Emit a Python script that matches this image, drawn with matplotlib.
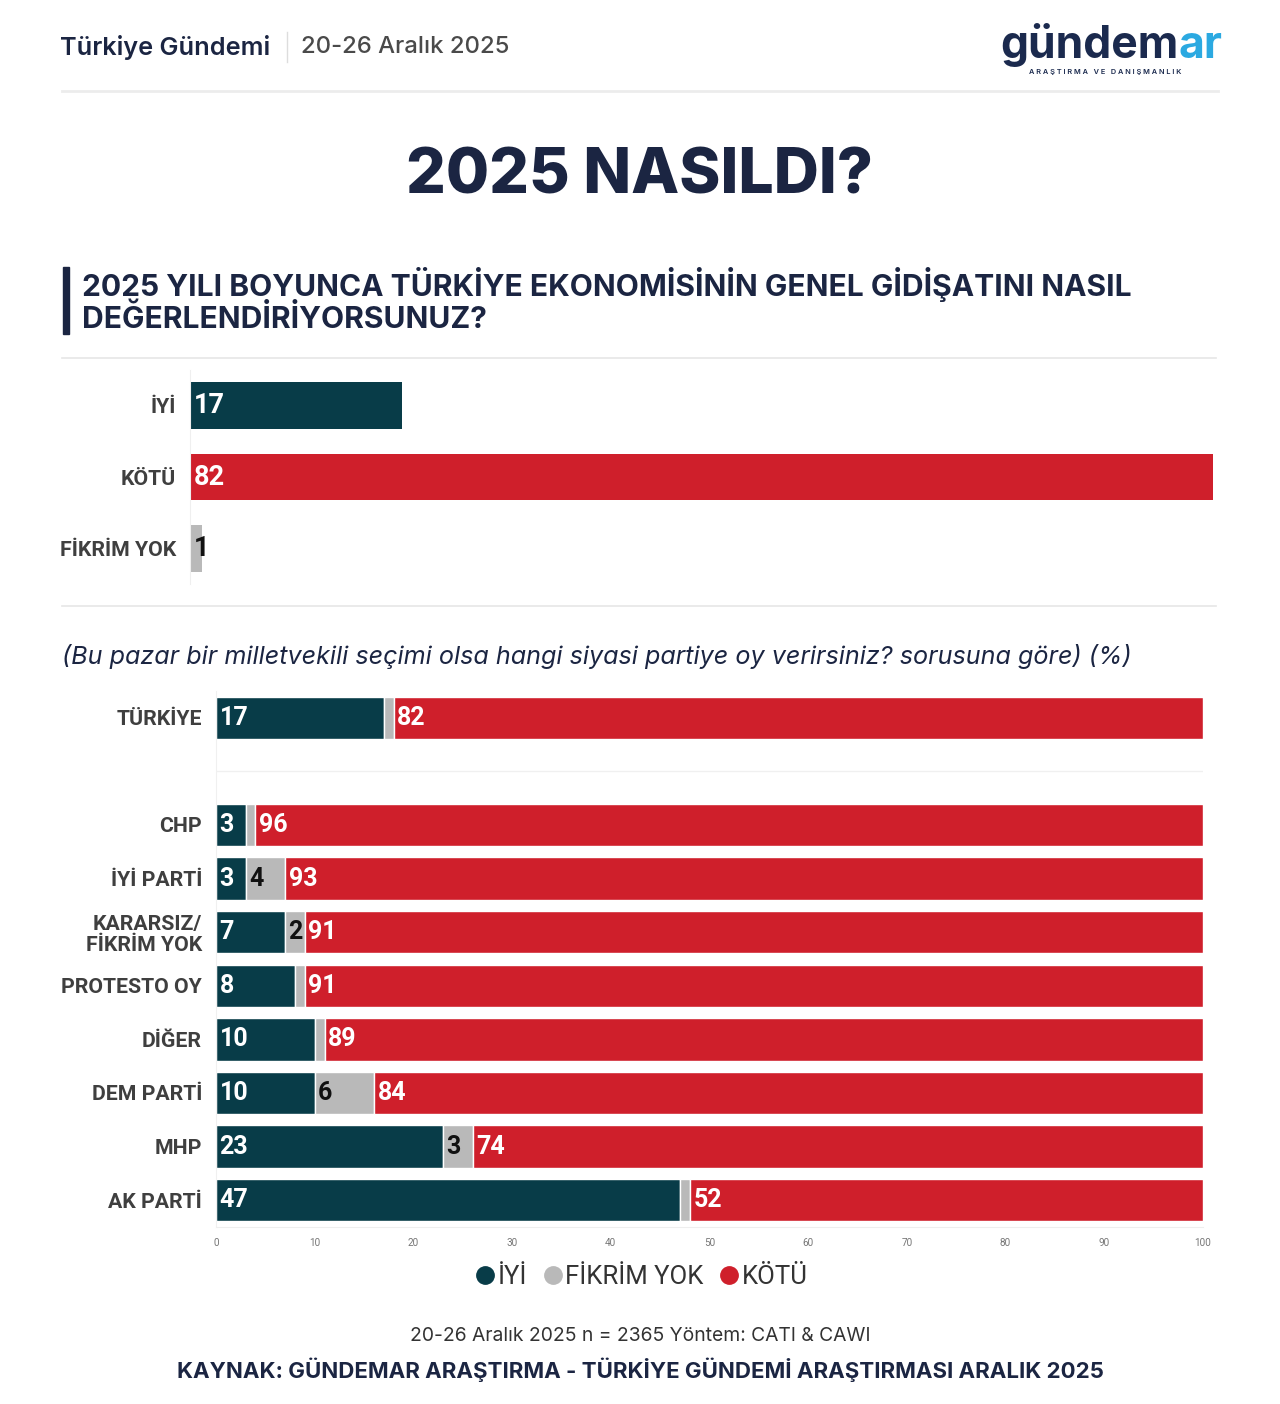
import matplotlib
matplotlib.use("Agg")
import matplotlib.pyplot as plt
from matplotlib.lines import Line2D

# ---------------- data ----------------
top_categories = ["İYİ", "KÖTÜ", "FİKRİM YOK"]
top_values = [17, 82, 1]

party_categories = ["TÜRKİYE", "", "CHP", "İYİ PARTİ", "KARARSIZ/\nFİKRİM YOK", "PROTESTO OY",
                    "DİĞER", "DEM PARTİ", "MHP", "AK PARTİ"]
iyi_values = [17, None, 3, 3, 7, 8, 10, 10, 23, 47]
fikrim_values = [1, None, 1, 4, 2, 1, 1, 6, 3, 1]
kotu_values = [82, None, 96, 93, 91, 91, 89, 84, 74, 52]
series_names = ["İYİ", "FİKRİM YOK", "KÖTÜ"]
x_ticks = [0, 10, 20, 30, 40, 50, 60, 70, 80, 90, 100]

# ---------------- style ----------------
TEAL = "#083C48"
RED = "#CF1F2B"
GRAY = "#B9B9B9"
NAVY = "#1B2542"
LABEL = "#3F3F3F"
W, H = 1280, 1404

fig = plt.figure(figsize=(W / 100, H / 100), dpi=100)
fig.patch.set_facecolor("white")


def fx(x):
    return x / W


def fy(y):
    return 1 - y / H


def ax_rect(x0, y0, x1, y1):
    return [fx(x0), fy(y1), fx(x1) - fx(x0), fy(y0) - fy(y1)]


def line(x0, x1, y, color="#E6E6E6", lw=1.2):
    fig.add_artist(Line2D([fx(x0), fx(x1)], [fy(y), fy(y)], color=color, lw=lw,
                          transform=fig.transFigure))


# ---------------- header ----------------
fig.text(fx(60), fy(47), "Türkiye Gündemi", fontsize=18.2, fontweight="semibold",
         family="Inter", color=NAVY, va="center", ha="left")
fig.add_artist(Line2D([fx(287), fx(287)], [fy(32), fy(62)], color="#DDDDDD", lw=1,
                      transform=fig.transFigure))
fig.text(fx(301), fy(47), "20-26 Aralık 2025", fontsize=17.2, fontweight="medium",
         family="Inter", color="#4A4A4A", va="center", ha="left")

# logo
t1 = fig.text(fx(1000), fy(58), "gündem", fontsize=32, fontweight="bold", family="Inter",
              color="#1B2A4E", va="baseline", ha="left")
fig.canvas.draw()
bb = t1.get_window_extent()
fig.text(bb.x1 / W, fy(58), "ar", fontsize=32, fontweight="bold", family="Inter",
         color="#2BA9E1", va="baseline", ha="left")
fig.text(fx(1029), fy(72), "A R A Ş T I R M A   V E   D A N I Ş M A N L I K", fontsize=5.3,
         fontweight="semibold", family="Inter", color="#1B2A4E", va="center", ha="left")

line(62, 1218, 91, color="#ECECEC", lw=2)

# title
fig.text(fx(640), fy(177), "2025 NASILDI?", fontsize=45, fontweight="heavy", family="Inter",
         color=NAVY, va="center", ha="center")

# question
fig.add_artist(plt.Rectangle((fx(63), fy(334)), fx(6), fy(267) - fy(334), color=NAVY,
                             transform=fig.transFigure))
fig.text(fx(82), fy(285), "2025 YILI BOYUNCA TÜRKİYE EKONOMİSİNİN GENEL GİDİŞATINI NASIL",
         fontsize=21.6, fontweight="bold", family="Inter", color=NAVY, va="center", ha="left")
fig.text(fx(82), fy(319), "DEĞERLENDİRİYORSUNUZ?",
         fontsize=21.6, fontweight="bold", family="Inter", color=NAVY, va="center", ha="left")

line(62, 1216, 358)
line(62, 1216, 606)

# ---------------- top chart ----------------
ax1 = fig.add_axes(ax_rect(190, 370, 1213, 584))
top_colors = [TEAL, RED, GRAY]
ypos = list(range(len(top_categories)))
ax1.barh(ypos, top_values, height=0.65, color=top_colors, edgecolor="none")
ax1.set_xlim(0, max(top_values))
ax1.set_ylim(len(top_categories) - 0.5, -0.5)
ax1.set_yticks(ypos)
ax1.set_yticklabels(top_categories, fontsize=15.3, fontweight="bold", family="Roboto", color=LABEL)
ax1.tick_params(axis="y", length=0, pad=10)
ax1.set_xticks([])
for s in ["top", "right", "bottom"]:
    ax1.spines[s].set_visible(False)
ax1.spines["left"].set_color("#EFEFEF")
for i, v in enumerate(top_values):
    col = "#111111" if top_colors[i] == GRAY else "white"
    ax1.annotate(str(v), (0, i), xytext=(3, 0), textcoords="offset points", va="center",
                 ha="left", fontsize=19.5, fontweight="bold", family="Roboto", color=col)

# subtitle
fig.text(fx(62), fy(656),
         "(Bu pazar bir milletvekili seçimi olsa hangi siyasi partiye oy verirsiniz? sorusuna göre) (%)",
         fontsize=18.1, style="italic", family="Inter", color=NAVY, va="center", ha="left")

# ---------------- bottom chart ----------------
ax2 = fig.add_axes(ax_rect(216, 691, 1203, 1227))
rows = list(range(len(party_categories)))
for i in rows:
    if iyi_values[i] is None:
        continue
    a, b, c = iyi_values[i], fikrim_values[i], kotu_values[i]
    ax2.barh(i, a, left=0, height=0.79, color=TEAL, edgecolor="white", lw=1)
    ax2.barh(i, b, left=a, height=0.79, color=GRAY, edgecolor="white", lw=1)
    ax2.barh(i, c, left=a + b, height=0.79, color=RED, edgecolor="white", lw=1)
    ax2.annotate(str(a), (0, i), xytext=(2.5, 0), textcoords="offset points", va="center",
                 ha="left", fontsize=18, fontweight="bold", family="Roboto", color="white")
    if b >= 2:
        ax2.annotate(str(b), (a, i), xytext=(2.5, 0), textcoords="offset points", va="center",
                     ha="left", fontsize=18, fontweight="bold", family="Roboto", color="#111111")
    ax2.annotate(str(c), (a + b, i), xytext=(2.5, 0), textcoords="offset points", va="center",
                 ha="left", fontsize=18, fontweight="bold", family="Roboto", color="white")

ax2.axhline(1, color="#F0F0F0", lw=1)
ax2.set_xlim(0, 100)
ax2.set_ylim(len(party_categories) - 0.5, -0.5)
ax2.set_yticks(rows)
ax2.set_yticklabels(party_categories, fontsize=15.3, fontweight="bold", family="Roboto",
                    color=LABEL, linespacing=1.1)
ax2.tick_params(axis="y", length=0, pad=10)
ax2.set_xticks(x_ticks)
ax2.set_xticklabels([str(t) for t in x_ticks], fontsize=7.2, family="Roboto", color="#777777")
ax2.tick_params(axis="x", length=0, pad=8)
for s in ["top", "right"]:
    ax2.spines[s].set_visible(False)
ax2.spines["left"].set_color("#F0F0F0")
ax2.spines["bottom"].set_color("#EEEEEE")

# legend
handles = [Line2D([], [], marker="o", ls="", markersize=12.5, color=c) for c in [TEAL, GRAY, RED]]
fig.legend(handles, series_names, loc="center", bbox_to_anchor=(fx(640), fy(1277)), ncol=3,
           frameon=False, handletextpad=0.0, columnspacing=0.5, handlelength=1.0,
           prop={"family": "Roboto", "size": 18.5}, labelcolor="#333333")

# footer
fig.text(fx(640), fy(1336), "20-26 Aralık 2025 n = 2365 Yöntem: CATI & CAWI", fontsize=13.9,
         family="Inter", color="#333333", va="center", ha="center")
fig.text(fx(640), fy(1370), "KAYNAK: GÜNDEMAR ARAŞTIRMA - TÜRKİYE GÜNDEMİ ARAŞTIRMASI ARALIK 2025",
         fontsize=16.0, fontweight="bold", family="Inter", color=NAVY, va="center", ha="center")

fig.savefig("out.png", dpi=100, facecolor="white")
